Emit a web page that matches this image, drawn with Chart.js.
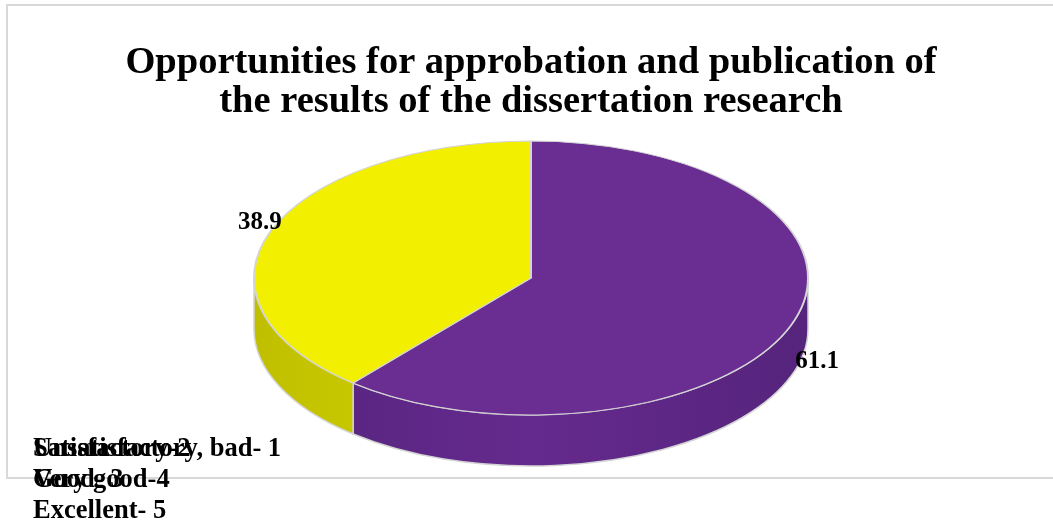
<!DOCTYPE html>
<html>
<head>
<meta charset="utf-8">
<script src="https://cdn.jsdelivr.net/npm/chart.js@4.4.0/dist/chart.umd.min.js"></script>
<style>
  html, body { margin: 0; padding: 0; background: #fff; }
  #wrap { width: 1053px; height: 521px; }
</style>
</head>
<body>
<div id="wrap"><canvas id="chart" width="1053" height="521"></canvas></div>
<script>
const titleLines = ['Opportunities for approbation and publication of', 'the results of the dissertation research'];
const sliceValues = [61.1, 38.9];
const sliceColors = ['#6a2d92', '#f2f000'];
const sideLight = ['#652a8e', '#d6d600'];
const sideDark = ['#55247c', '#bfbf00'];
const legendLabels = ['Unsatisfactory, bad- 1', 'Satisfactory-2', 'Good- 3', 'Very good-4', 'Excellent- 5'];

const FONT = "'Liberation Serif', 'Times New Roman', serif";
const TILT = 137 / 277;   // vertical squash of the top ellipse
const DEPTH = 51;         // height of the pie wall
const EDGE = '#d4d4d4';

const pie3d = {
    id: 'pie3d',
    beforeDraw(chart) {
        // light frame round the chart area (open on the right)
        const ctx = chart.ctx;
        ctx.save();
        ctx.strokeStyle = '#d9d9d9';
        ctx.lineWidth = 2;
        ctx.beginPath();
        ctx.moveTo(chart.width + 2, 5);
        ctx.lineTo(7, 5);
        ctx.lineTo(7, 478);
        ctx.lineTo(chart.width + 2, 478);
        ctx.stroke();
        ctx.restore();
    },
    beforeDatasetsDraw(chart) {
        const ctx = chart.ctx;
        const arcs = chart.getDatasetMeta(0).data;
        const cx = arcs[0].x, cy = arcs[0].y;
        const rx = arcs[0].outerRadius, ry = rx * TILT;

        // front wall, only the part between 0 and PI is visible
        arcs.forEach((arc, i) => {
            const a1 = Math.max(arc.startAngle, 0);
            const a2 = Math.min(arc.endAngle, Math.PI);
            if (a2 <= a1) return;
            const g = ctx.createLinearGradient(cx - rx, 0, cx + rx, 0);
            g.addColorStop(0, sideDark[i]);
            g.addColorStop(0.5, sideLight[i]);
            g.addColorStop(1, sideDark[i]);
            ctx.beginPath();
            ctx.ellipse(cx, cy, rx, ry, 0, a1, a2);
            ctx.ellipse(cx, cy + DEPTH, rx, ry, 0, a2, a1, true);
            ctx.closePath();
            ctx.fillStyle = g;
            ctx.fill();
            ctx.strokeStyle = EDGE;
            ctx.lineWidth = 1.5;
            ctx.stroke();
        });

        // squash the pie top into an ellipse
        ctx.save();
        ctx.translate(cx, cy);
        ctx.scale(1, TILT);
        ctx.translate(-cx, -cy);
    },
    afterDatasetsDraw(chart) {
        const ctx = chart.ctx;
        ctx.restore();
        const arcs = chart.getDatasetMeta(0).data;
        const cx = arcs[0].x, cy = arcs[0].y;
        const rx = arcs[0].outerRadius, ry = rx * TILT;

        ctx.save();
        ctx.font = 'bold 25px ' + FONT;
        ctx.fillStyle = '#000';
        ctx.textBaseline = 'alphabetic';
        arcs.forEach((arc, i) => {
            const mid = (arc.startAngle + arc.endAngle) / 2;
            const c = Math.cos(mid), s = Math.sin(mid);
            let x = cx + rx * c;
            let y = cy + ry * s;
            y += s > 0 ? DEPTH * 0.85 : -2;
            if (c >= 0) {
                ctx.textAlign = 'left';
                x += 4;
            } else {
                ctx.textAlign = 'right';
                x += 11;
            }
            ctx.fillText(String(sliceValues[i]), x, y);
        });
        ctx.restore();
    },
    afterDraw(chart) {
        // legend entries, two per row, printed on top of each other like the original
        const ctx = chart.ctx;
        ctx.save();
        ctx.font = 'bold 26.5px ' + FONT;
        ctx.fillStyle = '#000';
        ctx.textAlign = 'left';
        ctx.textBaseline = 'alphabetic';
        legendLabels.forEach((label, i) => {
            const row = Math.floor(i / 2);
            ctx.fillText(label, 33, 456 + row * 31);
        });
        ctx.restore();
    }
};

new Chart(document.getElementById('chart'), {
    type: 'pie',
    data: {
        labels: sliceValues.map(v => String(v)),
        datasets: [{
            data: sliceValues,
            backgroundColor: sliceColors,
            borderColor: EDGE,
            borderWidth: 2,
            radius: 277,
            clip: false
        }]
    },
    options: {
        responsive: false,
        animation: false,
        events: [],
        layout: {
            padding: { top: 0, bottom: 91, left: 9, right: 0 }
        },
        plugins: {
            legend: { display: false },
            tooltip: { enabled: false },
            title: {
                display: true,
                text: titleLines,
                color: '#000',
                font: { family: FONT, size: 38.5, weight: 'bold', lineHeight: 1.026 },
                padding: { top: 43, bottom: 4 }
            }
        }
    },
    plugins: [pie3d]
});
</script>
</body>
</html>
